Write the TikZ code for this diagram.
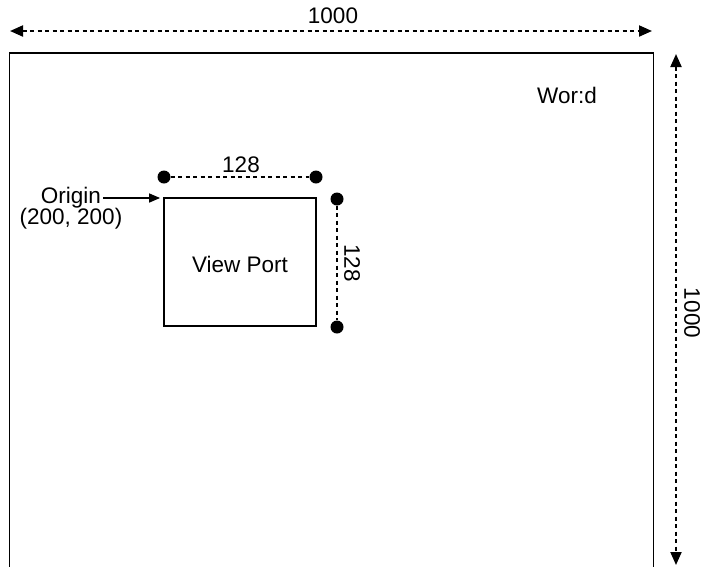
\documentclass[tikz,border=0pt]{standalone}
\usepackage{fontspec}
\setmainfont{Liberation Sans}
\usetikzlibrary{arrows.meta}
\begin{document}
\begin{tikzpicture}[x=1pt,y=-1pt,
  font=\fontsize{22.5}{26}\selectfont,
  box/.style={draw, line width=1.8pt},
  dim/.style={line width=2pt, dash pattern=on 4pt off 3.5pt},
  bigtip/.style={{Triangle[length=13pt,width=11pt]}-{Triangle[length=13pt,width=11pt]}},
  dot/.style={circle, fill, inner sep=0pt, minimum size=13pt},
  lbl/.style={inner sep=0pt}]
\useasboundingbox (0,0) rectangle (704,566);
% world frame
\coordinate (wbl) at (9.5,570);
\coordinate (wtl) at (9.5,53);
\coordinate (wtr) at (653.5,53);
\coordinate (wbr) at (653.5,570);
\draw[box] (wbl) -- (wtl) -- (wtr) -- (wbr);
\node[lbl] (world) at (567,95) {Wor:d};
% overall dimensions
\coordinate (hl) at (10,31);
\coordinate (hr) at (652,31);
\draw[dim,bigtip] (hl) -- (hr);
\node[lbl] (hw) at (333,16) {1000};
\coordinate (vt) at (676,54);
\coordinate (vb) at (676,565);
\draw[dim,bigtip] (vt) -- (vb);
\node[lbl, rotate=-90] (vh) at (692,313) {1000};
% view port
\node[box, minimum width=152pt, minimum height=128pt, inner sep=0pt] (vp) at (240,262) {};
\node[lbl] (vpt) at (240,264) {View Port};
% top dimension
\node[dot] (d1) at (164,177) {};
\node[dot] (d2) at (316,177) {};
\draw[dim] (d1) -- (d2);
\node[lbl] (w128) at (241,165) {128};
% right dimension
\node[dot] (d3) at (337,199) {};
\node[dot] (d4) at (337,327) {};
\draw[dim] (d3) -- (d4);
\node[lbl, rotate=-90] (h128) at (352,263) {128};
% origin
\node[lbl] (orig) at (71,198) {Origin};
\node[lbl] (coords) at (71,219) {(200, 200)};
\draw[line width=1.5pt, -{Triangle[length=11pt,width=9pt]}] (orig.east) ++(2pt,0) coordinate (oa) -- ([xshift=-3pt]vp.north west |- oa);
\end{tikzpicture}
\end{document}
